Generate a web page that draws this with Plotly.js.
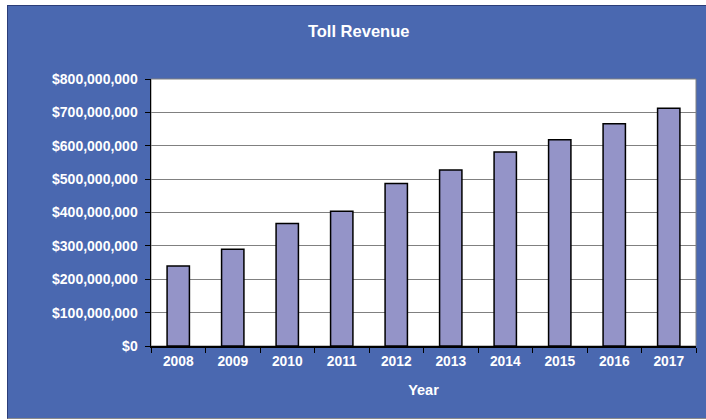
<!DOCTYPE html>
<html>
<head>
<meta charset="utf-8">
<script src="https://cdn.plot.ly/plotly-3.0.1.min.js"></script>
<style>
  html, body { margin: 0; padding: 0; background: #ffffff; }
  #frame {
    position: absolute; left: 7px; top: 5px;
    width: 698px; height: 412px;
    border-left: 1px solid #2b3d78;
    border-top: 1px solid #2b3d78;
    border-bottom: 1px solid #8c8c8c;
    background: #4a68b0;
  }
  #chart { width: 698px; height: 412px; }
</style>
</head>
<body>
<div id="frame"><div id="chart"></div></div>
<script>
const years = ["2008", "2009", "2010", "2011", "2012", "2013", "2014", "2015", "2016", "2017"];
const tollRevenue = [240000000, 290000000, 367000000, 404000000, 487000000, 527000000, 581000000, 618000000, 666000000, 712000000];
const yTickValues = [0, 100000000, 200000000, 300000000, 400000000, 500000000, 600000000, 700000000, 800000000];
const yTickLabels = ["$0", "$100,000,000", "$200,000,000", "$300,000,000", "$400,000,000", "$500,000,000", "$600,000,000", "$700,000,000", "$800,000,000"];

const fam = "Liberation Sans, Arial, sans-serif";

const trace = {
  type: "bar",
  x: years,
  y: tollRevenue,
  marker: { color: "#9494c8", line: { color: "#000000", width: 1.5 } },
  hoverinfo: "x+y"
};

const layout = {
  width: 698, height: 412,
  margin: { l: 143, r: 10, t: 73, b: 72, pad: 0 },
  paper_bgcolor: "#4a68b0",
  plot_bgcolor: "#ffffff",
  showlegend: false,
  bargap: 0.59,
  font: { family: fam, color: "#ffffff" },
  title: {
    text: "<b>Toll Revenue</b>",
    font: { family: fam, color: "#ffffff", size: 16.5 },
    xref: "container", x: 0.5024, xanchor: "center",
    yref: "container", y: 0.9376, yanchor: "middle"
  },
  xaxis: {
    type: "category",
    tickvals: years,
    ticktext: years.map(function (y) { return "<b>" + y + "</b>"; }),
    showline: true, linecolor: "#000000", linewidth: 1.5,
    ticks: "outside", ticklen: 5, tickcolor: "#000000", tickwidth: 1,
    tickson: "boundaries",
    ticklabelstandoff: 2,
    showgrid: false,
    tickfont: { family: fam, color: "#ffffff", size: 13.8 },
    title: { text: "<b>Year</b>", font: { family: fam, color: "#ffffff", size: 14.5 }, standoff: 17 },
    automargin: false
  },
  yaxis: {
    range: [0, 800000000],
    tickvals: yTickValues,
    ticktext: yTickLabels.map(function (t) { return "<b>" + t + "</b>"; }),
    showline: true, linecolor: "#000000", linewidth: 1.5,
    ticks: "outside", ticklen: 5, tickcolor: "#000000", tickwidth: 1,
    ticklabelstandoff: 4,
    showgrid: true, gridcolor: "#808080", gridwidth: 1,
    zeroline: false,
    tickfont: { family: fam, color: "#ffffff", size: 14 },
    automargin: false
  },
  shapes: [{
    type: "rect", xref: "paper", yref: "paper", x0: 0, x1: 1, y0: 0, y1: 1,
    line: { color: "#808080", width: 1 }, fillcolor: "rgba(0,0,0,0)", layer: "below"
  }]
};

Plotly.newPlot("chart", [trace], layout, { displayModeBar: false, staticPlot: true });
</script>
</body>
</html>
